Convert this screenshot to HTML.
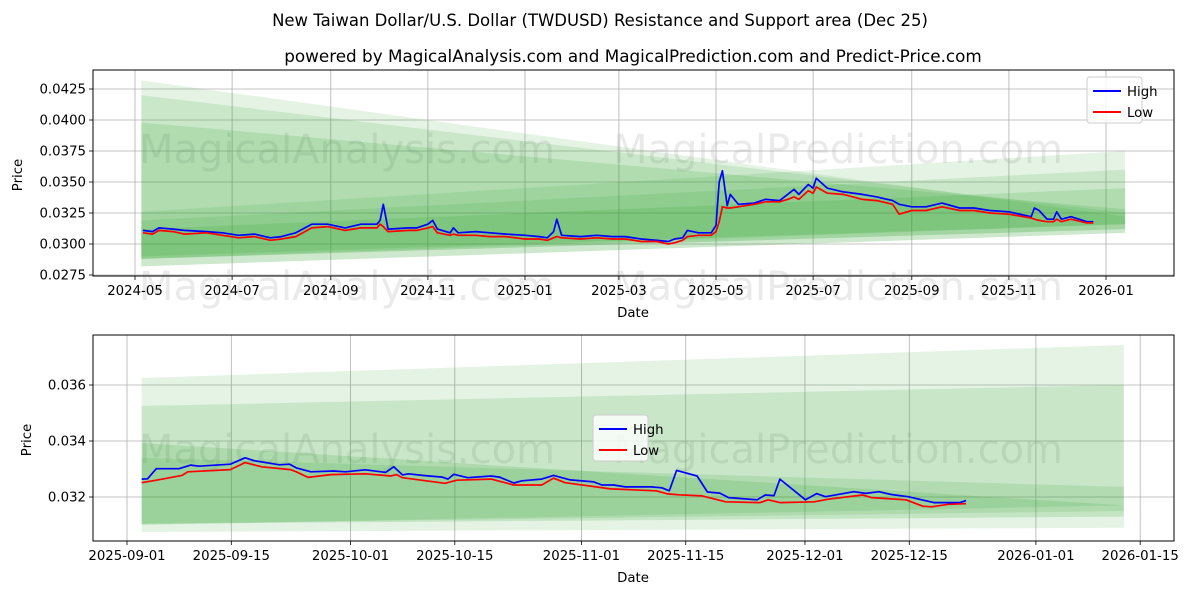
<!DOCTYPE html>
<html><head><meta charset="utf-8">
<style>
body{margin:0;background:#fff;}
svg{display:block;font-family:"DejaVu Sans","Liberation Sans",sans-serif;}
</style></head>
<body>
<svg id="c" width="1200" height="600" viewBox="0 0 1200 600" xmlns="http://www.w3.org/2000/svg">
<rect width="1200" height="600" fill="#fff"/>
<text x="600" y="26" text-anchor="middle" font-size="16.5" fill="#000">New Taiwan Dollar/U.S. Dollar (TWDUSD) Resistance and Support area (Dec 25)</text>
<text x="633" y="62" text-anchor="middle" font-size="16.8" fill="#000">powered by MagicalAnalysis.com and MagicalPrediction.com and Predict-Price.com</text>
<g id="top"></g>
<g id="bot"></g>
</svg>
<script>
// ---------- Top chart data ----------
const topDates = ["2024-05-06","2024-05-12","2024-05-16","2024-05-25","2024-06-01","2024-06-15","2024-06-25","2024-07-05","2024-07-15","2024-07-25","2024-08-01","2024-08-10","2024-08-20","2024-08-30","2024-09-10","2024-09-20","2024-09-30","2024-10-02","2024-10-04","2024-10-07","2024-10-20","2024-10-25","2024-11-01","2024-11-04","2024-11-07","2024-11-15","2024-11-17","2024-11-20","2024-12-01","2024-12-10","2024-12-20","2025-01-01","2025-01-10","2025-01-15","2025-01-19","2025-01-21","2025-01-24","2025-02-05","2025-02-15","2025-02-25","2025-03-05","2025-03-15","2025-03-25","2025-04-01","2025-04-05","2025-04-10","2025-04-13","2025-04-20","2025-04-28","2025-05-01","2025-05-03","2025-05-05","2025-05-08","2025-05-10","2025-05-15","2025-05-25","2025-06-01","2025-06-10","2025-06-15","2025-06-19","2025-06-22","2025-06-28","2025-07-01","2025-07-03","2025-07-10","2025-07-20","2025-08-01","2025-08-10","2025-08-20","2025-08-24","2025-09-01","2025-09-10","2025-09-20","2025-10-01","2025-10-10","2025-10-20","2025-11-01","2025-11-15","2025-11-17","2025-11-20","2025-11-25","2025-11-29","2025-12-01","2025-12-04","2025-12-10","2025-12-20","2025-12-24"];
const topHigh = [0.0311,0.0310,0.0313,0.0312,0.0311,0.0310,0.0309,0.0307,0.0308,0.0305,0.0306,0.0309,0.0316,0.0316,0.0313,0.0316,0.0316,0.0319,0.0332,0.0312,0.0313,0.0313,0.0316,0.0319,0.0312,0.0309,0.0313,0.0309,0.0310,0.0309,0.0308,0.0307,0.0306,0.0305,0.0310,0.0320,0.0307,0.0306,0.0307,0.0306,0.0306,0.0304,0.0303,0.0302,0.0304,0.0305,0.0311,0.0309,0.0309,0.0315,0.0350,0.0359,0.0331,0.0340,0.0332,0.0333,0.0336,0.0335,0.0340,0.0344,0.0340,0.0348,0.0345,0.0353,0.0345,0.0342,0.0340,0.0338,0.0335,0.0332,0.0330,0.0330,0.0333,0.0329,0.0329,0.0327,0.0326,0.0322,0.0329,0.0327,0.0320,0.0320,0.0326,0.0320,0.0322,0.0318,0.0318];
const topLow = [0.0309,0.0308,0.0311,0.0310,0.0308,0.0309,0.0307,0.0305,0.0306,0.0303,0.0304,0.0306,0.0313,0.0314,0.0311,0.0313,0.0313,0.0316,0.0314,0.0310,0.0311,0.0311,0.0313,0.0314,0.0309,0.0307,0.0308,0.0307,0.0307,0.0306,0.0306,0.0304,0.0304,0.0303,0.0305,0.0306,0.0305,0.0304,0.0305,0.0304,0.0304,0.0302,0.0302,0.0300,0.0301,0.0303,0.0306,0.0307,0.0307,0.0310,0.0318,0.0330,0.0329,0.0329,0.0330,0.0332,0.0334,0.0334,0.0336,0.0338,0.0336,0.0343,0.0341,0.0346,0.0341,0.0340,0.0336,0.0335,0.0332,0.0324,0.0327,0.0327,0.0330,0.0327,0.0327,0.0325,0.0324,0.0321,0.0320,0.0319,0.0318,0.0318,0.0320,0.0318,0.0320,0.0317,0.0317];
const topYTicks = [0.0275,0.0300,0.0325,0.0350,0.0375,0.0400,0.0425];
const topXTicks = ["2024-05","2024-07","2024-09","2024-11","2025-01","2025-03","2025-05","2025-07","2025-09","2025-11","2026-01"];
const topBandStart = "2024-05-05", topBandEnd = "2026-01-13";
const topBandTopL = [0.0432,0.0420,0.0398,0.0326,0.0319,0.0312];
const topBandTopR = [0.0322,0.0325,0.0328,0.0375,0.0360,0.0345];
const topBandBotL = [0.0282,0.0288,0.0288,0.0282,0.0288,0.0290];
const topBandBotR = [0.0309,0.0312,0.0316,0.0309,0.0312,0.0316];

// ---------- Bottom chart data (days since 2025-09-01) ----------
const botHighDays = [1.97,2.75,3.93,6.98,8.56,9.64,13.87,15.84,17.02,20.46,21.84,22.72,24.69,27.74,29.31,31.97,34.72,35.8,36.98,37.77,39.64,42.29,43.08,43.87,45.74,48.88,49.97,51.93,53.02,55.67,57.25,59.51,62.66,63.74,65.31,66.88,70.33,71.8,72.79,73.77,76.52,77.9,79.57,80.75,84.59,85.67,86.85,87.64,91.08,92.56,93.74,97.57,99.15,100.92,102.59,104.85,108.29,111.83,112.62];
const botHigh = [0.03264,0.03265,0.03301,0.03301,0.03314,0.0331,0.03317,0.0334,0.0333,0.03315,0.03317,0.03304,0.0329,0.03293,0.0329,0.03297,0.03288,0.03308,0.03279,0.03283,0.03277,0.03271,0.03264,0.03281,0.03269,0.03275,0.03271,0.0325,0.03258,0.03264,0.03277,0.03261,0.03254,0.03243,0.03243,0.03236,0.03236,0.03233,0.03222,0.03295,0.03275,0.03218,0.03214,0.03198,0.0319,0.03207,0.03205,0.03264,0.0319,0.03212,0.03201,0.03219,0.03213,0.03219,0.03209,0.03201,0.0318,0.0318,0.03187];
const botLowDays = [1.97,3.93,7.38,8.16,13.87,15.84,18.1,21.93,22.72,24.29,27.34,31.97,35.41,36.2,36.98,42.69,44.26,48.88,51.93,55.67,57.25,58.82,64.92,71.02,72.59,74.07,77.21,80.36,84.98,86.07,87.64,92.26,94.13,98.75,99.93,104.56,106.82,108,110.26,112.62];
const botLow = [0.03251,0.0326,0.03277,0.0329,0.03298,0.03323,0.03308,0.03298,0.0329,0.0327,0.0328,0.03283,0.03275,0.0328,0.03269,0.03249,0.0326,0.03264,0.03243,0.03243,0.03267,0.03251,0.03229,0.03222,0.03211,0.03208,0.03204,0.03183,0.0318,0.0319,0.0318,0.03183,0.03192,0.03207,0.03198,0.0319,0.03167,0.03165,0.03174,0.03176];
const botYTicks = [0.032,0.034,0.036];
const botXTicks = ["2025-09-01","2025-09-15","2025-10-01","2025-10-15","2025-11-01","2025-11-15","2025-12-01","2025-12-15","2026-01-01","2026-01-15"];
const botBandStart = 1.97, botBandEnd = 133.8;
const botBandTopL = [0.03625,0.03525,0.03393,0.0334];
const botBandTopR = [0.03743,0.0360,0.0317,0.03236];
const botBandBotL = [0.03075,0.03104,0.03104,0.0310];
const botBandBotR = [0.0309,0.0315,0.0313,0.0317];

const NS = "http://www.w3.org/2000/svg";
function mk(parent, tag, attrs){const e=document.createElementNS(NS,tag);for(const k in attrs)e.setAttribute(k,attrs[k]);parent.appendChild(e);return e;}
function dayNum(s){const p=s.split("-").map(Number);return Date.UTC(p[0],p[1]-1,p[2]||1)/86400000;}

// ---------- Top axes ----------
const T={x0:93,x1:1174,y0:70,y1:276};
const tD0=dayNum("2024-05-01"), tD1=dayNum("2026-01-01");
function tx(s){return 135+(dayNum(s)-tD0)*(1106-135)/(tD1-tD0);}
function ty(v){return 89+(0.0425-v)/0.0025*31;}
// ---------- Bottom axes ----------
const B={x0:93,x1:1174,y0:335,y1:541};
function bx(d){return 127+d*7.45;}
function bxs(s){return bx(dayNum(s)-dayNum("2025-09-01"));}
function by(v){return 385+(0.036-v)/0.001*28;}

function drawPanel(g,P,yTicks,yFmt,yFn,xTicks,xFn,yLabelX,yLabelY,dateY){
  yTicks.forEach(v=>{const y=yFn(v);
    const l=mk(g,"line",{x1:P.x0,x2:P.x1,y1:y,y2:y,stroke:"#b0b0b0","stroke-width":0.8});
    
    
    mk(g,"line",{x1:P.x0-4,x2:P.x0,y1:y,y2:y,stroke:"#000","stroke-width":0.8});
    const t=mk(g,"text",{x:P.x0-7,y:y+4.5,"text-anchor":"end","font-size":13.3});
    t.textContent=yFmt(v);
    
    
  });
  xTicks.forEach(s=>{const x=xFn(s);
    const l=mk(g,"line",{x1:x,x2:x,y1:P.y0,y2:P.y1,stroke:"#b0b0b0","stroke-width":0.8});
    
    
    mk(g,"line",{x1:x,x2:x,y1:P.y1,y2:P.y1+4,stroke:"#000","stroke-width":0.8});
    const t=mk(g,"text",{x:x,y:P.y1+19,"text-anchor":"middle","font-size":13.3});
    t.textContent=s;
    
    
  });
  const yl=mk(g,"text",{x:yLabelX,y:yLabelY,"text-anchor":"middle","font-size":13.3,transform:`rotate(-90 ${yLabelX} ${yLabelY})`});
  yl.textContent="Price";
  
  
  const xl=mk(g,"text",{x:633,y:dateY,"text-anchor":"middle","font-size":13.3});
  xl.textContent="Date";
  
  
}
function bands(g,xa,xb,tl,tr,bl,br,yFn,alphas){
  for(let i=0;i<tl.length;i++){
    const p=mk(g,"polygon",{points:`${xa},${yFn(tl[i])} ${xb},${yFn(tr[i])} ${xb},${yFn(br[i])} ${xa},${yFn(bl[i])}`,fill:"#2ca02c","fill-opacity":alphas[i]});
    
    
  }
}
function line(g,xs,ys,color,name){
  const pts=xs.map((x,i)=>x.toFixed(1)+","+ys[i].toFixed(1)).join(" ");
  const l=mk(g,"polyline",{points:pts,fill:"none",stroke:color,"stroke-width":1.7,"stroke-linejoin":"round"});
  
  
}
function watermark(g,y){
  [["MagicalAnalysis.com",347],["MagicalPrediction.com",838]].forEach(([s,x])=>{
    const t=mk(g,"text",{x:x,y:y,"text-anchor":"middle","font-size":40,fill:"#888","fill-opacity":0.18});
    t.textContent=s;
    
    
  });
}
function legend(g,x,y){
  const r=mk(g,"rect",{x:x,y:y,width:55,height:46,rx:3,fill:"#fff","fill-opacity":0.8,stroke:"#ccc"});
  
  
  [["High","#0000ff",14],["Low","#ff0000",35]].forEach(([s,c,dy])=>{
    mk(g,"line",{x1:x+6,x2:x+34,y1:y+dy,y2:y+dy,stroke:c,"stroke-width":2});
    const t=mk(g,"text",{x:x+40,y:y+dy+5,"font-size":13.3});
    t.textContent=s;
    
    
  });
}

// Top
const gt=document.getElementById("top");
watermark(gt,163); watermark(gt,300);
drawPanel(gt,T,topYTicks,v=>v.toFixed(4),ty,topXTicks,tx,22,175,317);
bands(gt,tx(topBandStart),tx(topBandEnd),topBandTopL,topBandTopR,topBandBotL,topBandBotR,ty,[0.12,0.14,0.16,0.12,0.14,0.16]);
line(gt,topDates.map(tx),topHigh.map(ty),"#0000ff","high-line");
line(gt,topDates.map(tx),topLow.map(ty),"#ff0000","low-line");
mk(gt,"rect",{x:T.x0,y:T.y0,width:T.x1-T.x0,height:T.y1-T.y0,fill:"none",stroke:"#000","stroke-width":1});
legend(gt,1087,77);

// Bottom
const gb=document.getElementById("bot");
watermark(gb,463);
drawPanel(gb,B,botYTicks,v=>v.toFixed(3),by,botXTicks,bxs,31,440,582);
bands(gb,bx(botBandStart),bx(botBandEnd),botBandTopL,botBandTopR,botBandBotL,botBandBotR,by,[0.13,0.15,0.17,0.15]);
line(gb,botHighDays.map(bx),botHigh.map(by),"#0000ff","high-line");
line(gb,botLowDays.map(bx),botLow.map(by),"#ff0000","low-line");
mk(gb,"rect",{x:B.x0,y:B.y0,width:B.x1-B.x0,height:B.y1-B.y0,fill:"none",stroke:"#000","stroke-width":1});
legend(gb,593,415);
</script>
</body></html>
